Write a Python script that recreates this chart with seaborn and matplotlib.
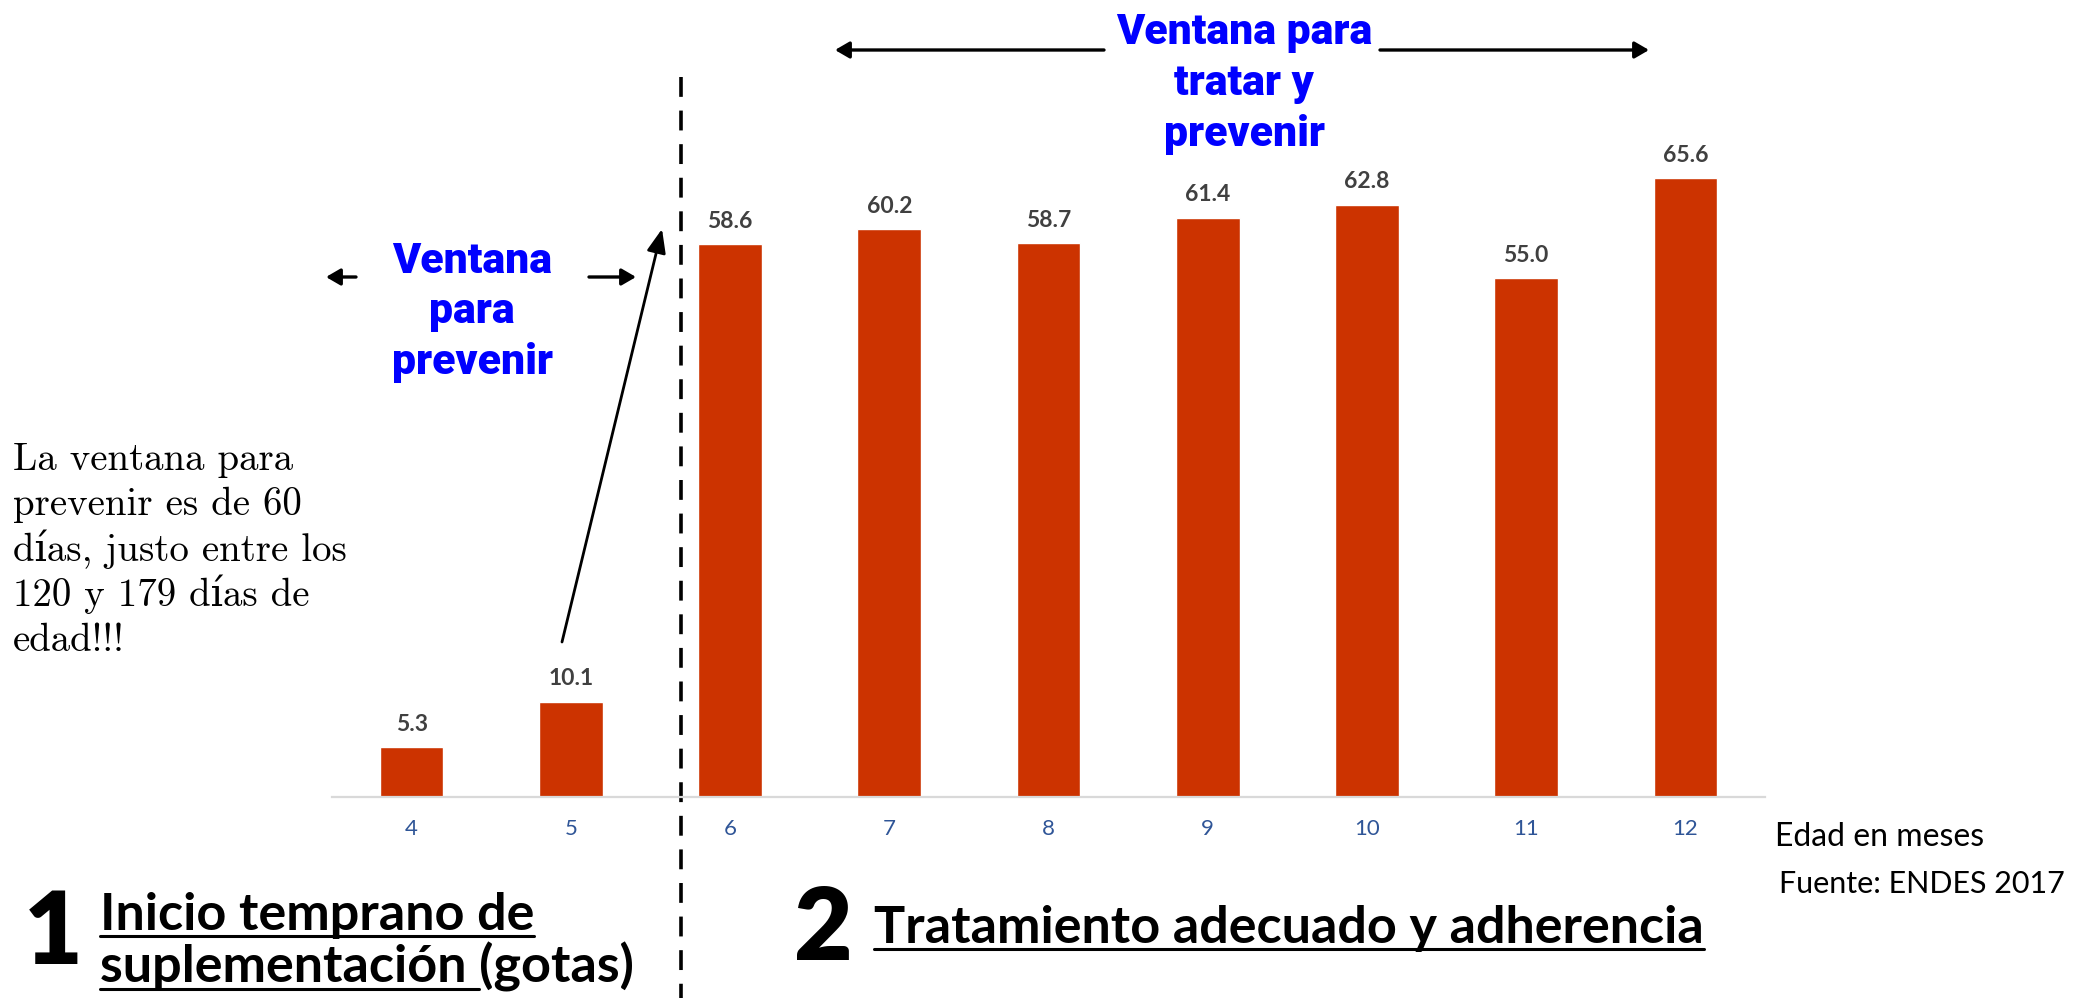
import matplotlib
matplotlib.use("Agg")
import matplotlib.pyplot as plt
import seaborn as sns
import pandas as pd
from matplotlib.font_manager import FontProperties
from matplotlib.lines import Line2D
from matplotlib.patches import FancyArrowPatch
from matplotlib.transforms import blended_transform_factory

# Data: prevalence by age in months (ENDES 2017)
months = ["4", "5", "6", "7", "8", "9", "10", "11", "12"]
values = [5.3, 10.1, 58.6, 60.2, 58.7, 61.4, 62.8, 55.0, 65.6]
x_title = "Edad en meses"
source = "Fuente: ENDES 2017"

df = pd.DataFrame({"edad": months, "valor": values})

BAR = "#CC3300"
BLUE = "#0000FF"
W, H = 2085, 998

sns.set_theme(style="white")
plt.rcParams["font.family"] = ["Lato", "DejaVu Sans"]

fig = plt.figure(figsize=(W / 100, H / 100), dpi=100)


def P(x, y):
    """pixel position (from top-left) -> figure fraction"""
    return (x / W, 1 - y / H)


ax = fig.add_axes([332 / W, 1 - 797 / H, (1765 - 332) / W, 679 / H])
sns.barplot(data=df, x="edad", y="valor", color=BAR, width=0.4,
            saturation=1, ax=ax)
ax.set_xlim(-0.5, 8.5)
ax.set_ylim(0, 72)
for s in ["top", "right", "left"]:
    ax.spines[s].set_visible(False)
ax.spines["bottom"].set_color("#D9D9D9")
ax.spines["bottom"].set_linewidth(1.6)
ax.set_yticks([])
ax.set_xlabel("")
ax.set_ylabel("")
ax.tick_params(axis="x", length=0, pad=16, labelsize=16, labelcolor="#2F5597")
for c in ax.containers:
    ax.bar_label(c, fmt="%.1f", padding=9, fontsize=16.5, fontweight="bold",
                 color="#404040")

# dashed separator between stages
trans = blended_transform_factory(ax.transData, fig.transFigure)
ax.add_line(Line2D([1.69, 1.69], [1 - 77 / H, 0], transform=trans,
                   color="black", lw=2.6, dashes=(5.5, 3.8), clip_on=False))

fig.canvas.draw()
r = fig.canvas.get_renderer()

# blue window headings in a heavy, fairly narrow face
fp = FontProperties(family=["Roboto", "DejaVu Sans"], weight=900, size=30)
probe = fig.text(0, 0, "Ventana para", fontproperties=fp)
wpx = probe.get_window_extent(r).width
probe.remove()
fp.set_size(min(30 * 255 / wpx, 33))

blue_kw = dict(color=BLUE, fontproperties=fp, ha="center", va="baseline")
for line, yb in zip(["Ventana", "para", "prevenir"], [273, 323, 374]):
    fig.text(*P(472, yb), line, **blue_kw)
for line, yb in zip(["Ventana para", "tratar y", "prevenir"], [44, 95, 146]):
    fig.text(*P(1244, yb), line, **blue_kw)


def arrow(x0, y0, x1, y1, lw=2.4, hl=12, hw=7):
    a = FancyArrowPatch(P(x0, y0), P(x1, y1), transform=fig.transFigure,
                        arrowstyle=f"-|>,head_length={hl / 1.389:.1f},head_width={hw / 1.389:.1f}",
                        color="black", lw=lw, mutation_scale=1,
                        shrinkA=0, shrinkB=0)
    fig.add_artist(a)


arrow(356, 277, 326, 277)
arrow(589, 277, 636, 277)
arrow(1104, 50, 835, 50)
arrow(1380, 50, 1649, 50)
arrow(562, 642, 662, 229, lw=2.0, hl=20, hw=8)

# explanatory note
note = ["La ventana para", "prevenir es de 60", "días, justo entre los",
        "120 y 179 días de", "edad!!!"]
for i, line in enumerate(note):
    fig.text(*P(13, 470 + 45.3 * i), line, fontsize=28, color="black",
             ha="left", va="baseline", family=["cmr10", "DejaVu Serif"])

# axis title and source
fig.text(*P(1775, 846), x_title, fontsize=23, color="black", ha="left",
         va="baseline")
fig.text(*P(1779, 893), source, fontsize=22, color="black", ha="left",
         va="baseline")

# stage headings
big_kw = dict(fontsize=73, fontweight="heavy", color="black", ha="left",
              va="baseline")
fig.text(*P(24, 964), "1", **big_kw)
fig.text(*P(794, 960), "2", **big_kw)

head_kw = dict(fontsize=37.5, fontweight="bold", color="black", ha="left",
               va="baseline")
t1 = fig.text(*P(100, 930), "Inicio temprano de", **head_kw)
t2 = fig.text(*P(100, 983), "suplementación (gotas)", **head_kw)
t3 = fig.text(*P(874, 943), "Tratamiento adecuado y adherencia", **head_kw)

fig.canvas.draw()
r = fig.canvas.get_renderer()


def underline(t, text=None, below=6):
    x0, yb = t.get_position()
    if text is None:
        w = t.get_window_extent(r).width
    else:
        tmp = fig.text(x0, yb, text, **head_kw)
        w = tmp.get_window_extent(r).width
        tmp.remove()
    y = yb - below / H
    fig.add_artist(Line2D([x0, x0 + w / W], [y, y], transform=fig.transFigure,
                          color="black", lw=2.2))


underline(t1)
underline(t2, "suplementación ")
underline(t3)

fig.savefig("out.png", dpi=100)
